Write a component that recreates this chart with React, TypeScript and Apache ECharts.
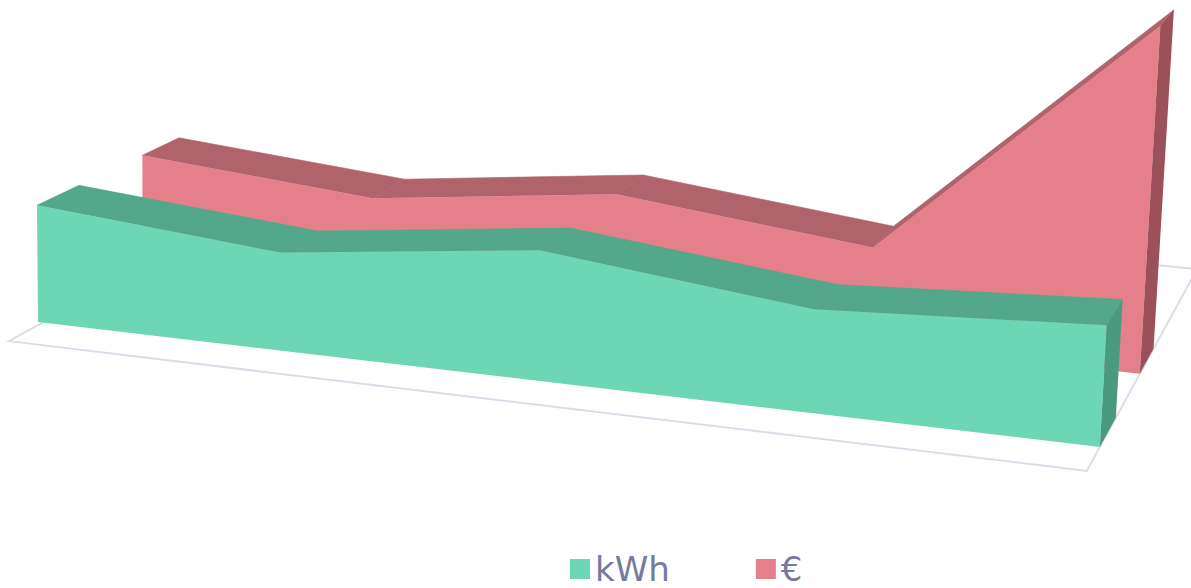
import React, { useEffect, useRef } from "react";
import * as echarts from "echarts";

// ---- data ----
const categories = ["1", "2", "3", "4", "5"];
const seriesNames = ["kWh", "€"];
const kwhValues = [71, 58, 75, 58, 66];
const euroValues = [71, 58, 75, 58, 200];

// ---- 3D projection (perspective, vanishing points) ----
const ORIGIN = [38, 322];
const VX = [-8241, -652];
const GX = -0.02842; // per category unit
const VY = [177, 16650];
const VZ = [1650, -560];
const VALUE_SCALE = 10000; // value units -> homogeneous Y weight

function project(X: number, s: number, r: number): number[] {
  const a = GX * X;
  const u = ORIGIN[0] + a * VX[0] + s * VY[0] + r * VZ[0];
  const v = ORIGIN[1] + a * VX[1] + s * VY[1] + r * VZ[1];
  const w = 1 + a + s + r;
  return [u / w, v / w];
}

function worldPoints(api: any, n: number) {
  const first = api.coord([0, 0]);
  const last = api.coord([n - 1, 0]);
  const step = (last[0] - first[0]) / (n - 1);
  const out: { X: number; s: number }[] = [];
  for (let j = 0; j < n; j++) {
    const xi = api.value(0, j);
    const c = api.coord([xi, api.value(1, j)]);
    const b = api.coord([xi, 0]);
    out.push({ X: (c[0] - first[0]) / step, s: -(b[1] - c[1]) / VALUE_SCALE });
  }
  return out;
}

function areaSeries(
  name: string,
  values: number[],
  depth: number[],
  colors: { front: string; top: string; side: string }
) {
  return {
    type: "custom",
    name,
    coordinateSystem: "cartesian2d",
    silent: true,
    itemStyle: { color: colors.front },
    data: values.map((v, i) => [i, v]),
    renderItem: (params: any, api: any) => {
      if (params.dataIndex !== 0) return null;
      const n = params.dataInsideLength;
      const pts = worldPoints(api, n);
      const [r0, r1] = depth;
      const F = pts.map((p) => project(p.X, p.s, r0));
      const B = pts.map((p) => project(p.X, p.s, r1));
      const Fb = pts.map((p) => project(p.X, 0, r0));
      const Bb = pts.map((p) => project(p.X, 0, r1));
      const children: any[] = [];
      for (let i = 0; i < n - 1; i++) {
        children.push({
          type: "polygon",
          shape: { points: [F[i], F[i + 1], B[i + 1], B[i]] },
          style: { fill: colors.top, stroke: colors.top, lineWidth: 0.6 },
        });
      }
      children.push({
        type: "polygon",
        shape: { points: [...F, Fb[n - 1], Fb[0]] },
        style: { fill: colors.front },
      });
      children.push({
        type: "polygon",
        shape: { points: [F[n - 1], B[n - 1], Bb[n - 1], Fb[n - 1]] },
        style: { fill: colors.side },
      });
      return { type: "group", children };
    },
  };
}

const floorSeries = {
  type: "custom",
  name: "floor",
  coordinateSystem: "cartesian2d",
  silent: true,
  data: [
    [0, 0],
    [categories.length - 1, 0],
  ],
  renderItem: (params: any, api: any) => {
    if (params.dataIndex !== 0) return null;
    const first = api.coord([0, 0]);
    const last = api.coord([categories.length - 1, 0]);
    const step = (last[0] - first[0]) / (categories.length - 1);
    const x0 = (api.coord([api.value(0, 0), 0])[0] - first[0]) / step + 0.02;
    const x1 = (api.coord([api.value(0, 1), 0])[0] - first[0]) / step;
    const rf = -0.0206;
    const rb = 0.19;
    return {
      type: "polygon",
      shape: {
        points: [project(x0, 0, rf), project(x1, 0, rf), project(x1, 0, rb), project(x0, 0, rb)],
      },
      style: { fill: "none", stroke: "#dcdce9", lineWidth: 2 },
    };
  },
};

export default function App() {
  const ref = useRef<HTMLDivElement>(null);
  useEffect(() => {
    if (!ref.current) return;
    const chart = echarts.init(ref.current, undefined, { renderer: "svg" });
    chart.setOption({
      animation: false,
      backgroundColor: "#ffffff",
      grid: { left: 0, top: 0, width: 400, height: 400, show: false },
      xAxis: { type: "category", data: categories, boundaryGap: false, show: false },
      yAxis: { type: "value", min: 0, max: 400, show: false },
      legend: {
        data: seriesNames,
        left: 570,
        top: 552,
        padding: 0,
        icon: "rect",
        itemWidth: 20,
        itemHeight: 20,
        itemGap: 86,
        selectedMode: false,
        textStyle: { fontSize: 34, color: "#767a9e", fontFamily: "DejaVu Sans" },
      },
      series: [
        floorSeries,
        areaSeries(seriesNames[1], euroValues, [0.0694, 0.0959], {
          front: "#e5808b",
          top: "#b0636b",
          side: "#9c5059",
        }),
        areaSeries(seriesNames[0], kwhValues, [0, 0.0265], {
          front: "#6dd6b4",
          top: "#53a78b",
          side: "#4a9a7f",
        }),
      ],
    });
    return () => chart.dispose();
  }, []);
  return (
    <div
      ref={ref}
      style={{ position: "fixed", left: 0, top: 0, width: 1191, height: 588 }}
    />
  );
}
